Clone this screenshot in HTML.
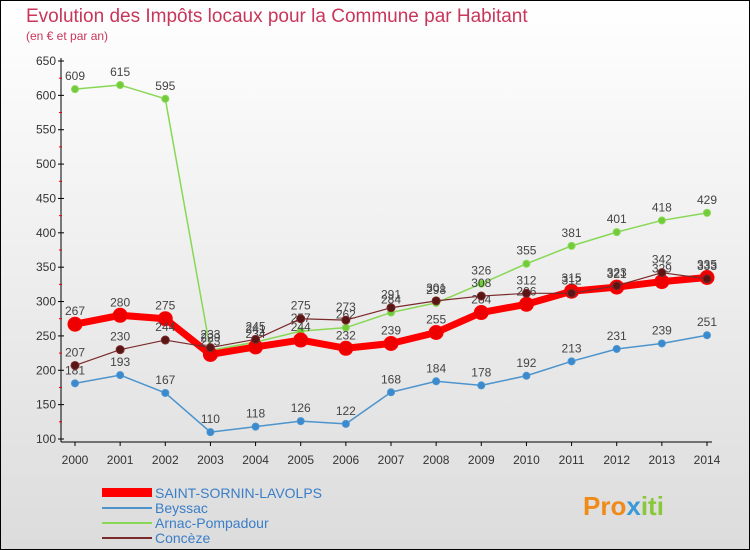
<!DOCTYPE html>
<html><head><meta charset="utf-8"><style>
body{margin:0;background:#fff}
svg{display:block;font-family:"Liberation Sans",sans-serif}
</style></head><body>
<svg id="chart" width="750" height="550" viewBox="0 0 750 550" xmlns="http://www.w3.org/2000/svg">
<defs><linearGradient id="bg" x1="0" y1="0" x2="0" y2="1"><stop offset="0" stop-color="#ffffff"/><stop offset="1" stop-color="#dcdcdc"/></linearGradient></defs>
<rect x="0.5" y="0.5" width="749" height="549" fill="url(#bg)" stroke="#000"/>
<text x="26" y="22" font-size="19" fill="#c8365a">Evolution des Impôts locaux pour la Commune par Habitant</text>
<text x="26" y="40" font-size="12" fill="#c8365a">(en € et par an)</text>
<g id="axes"></g>
<g id="series"></g>
<g id="legend">
<rect x="102" y="488" width="50" height="9" fill="#ff0000"/>
<text x="155" y="498" font-size="14" fill="#3a7ec8">SAINT-SORNIN-LAVOLPS</text>
<line x1="102" y1="508" x2="152" y2="508" stroke="#4d94cc" stroke-width="2"/>
<text x="155" y="513" font-size="14" fill="#3a7ec8">Beyssac</text>
<line x1="102" y1="523" x2="152" y2="523" stroke="#88d855" stroke-width="2"/>
<text x="155" y="528" font-size="14" fill="#3a7ec8">Arnac-Pompadour</text>
<line x1="102" y1="538" x2="152" y2="538" stroke="#7a2a2a" stroke-width="2"/>
<text x="155" y="543" font-size="14" fill="#3a7ec8">Concèze</text>
</g>
<text x="583" y="515" font-size="26" font-weight="bold" fill="#f08a1a">Pro<tspan fill="#3a9ad8">x</tspan><tspan fill="#88c83a">iti</tspan></text>
</svg>
<script>
const years=[2000,2001,2002,2003,2004,2005,2006,2007,2008,2009,2010,2011,2012,2013,2014];
const yTicks=[100,150,200,250,300,350,400,450,500,550,600,650];
const saintSornin=[267,280,275,223,234,244,232,239,255,284,296,315,321,329,335];
const beyssac=[181,193,167,110,118,126,122,168,184,178,192,213,231,239,251];
const arnac=[609,615,595,229,241,257,262,284,298,326,355,381,401,418,429];
const conceze=[207,230,244,233,245,275,273,291,301,308,312,312,323,342,333];
const NS="http://www.w3.org/2000/svg";
const X=i=>75+i*(707-75)/14;
const Y=v=>439-(v-100)*(439-61)/550;
function mk(tag,attrs,parent){const e=document.createElementNS(NS,tag);for(const k in attrs)e.setAttribute(k,attrs[k]);parent.appendChild(e);return e;}
const ax=document.getElementById('axes');
let a=mk('line',{x1:61,y1:58,x2:61,y2:442,stroke:'#000'},ax);


a=mk('line',{x1:61,y1:442,x2:712,y2:442,stroke:'#000'},ax);


yTicks.forEach((t,i)=>{
  mk('line',{x1:58,y1:Y(t),x2:64,y2:Y(t),stroke:'#000'},ax);
  if(i<yTicks.length-1)mk('line',{x1:59,y1:Y(t+25),x2:62,y2:Y(t+25),stroke:'#e00'},ax);
  const tx=mk('text',{x:56,y:Y(t)+4,'font-size':12,'text-anchor':'end',fill:'#333'},ax);
  tx.textContent=t;
  
  
});
years.forEach((yr,i)=>{
  mk('line',{x1:X(i),y1:442,x2:X(i),y2:446,stroke:'#000'},ax);
  const tx=mk('text',{x:X(i),y:464,'font-size':12,'text-anchor':'middle',fill:'#333'},ax);
  tx.textContent=yr;
  
  
});
const sg=document.getElementById('series');
function draw(vals,name,color,w,r,dot){
  const g=mk('g',{},sg);
  
  
  const pl=mk('polyline',{points:vals.map((v,i)=>X(i)+','+Y(v)).join(' '),fill:'none',stroke:color,'stroke-width':w,'stroke-linejoin':'round'},g);
  
  
  vals.forEach((v,i)=>{
    const c=mk('circle',{cx:X(i),cy:Y(v),r:r,fill:dot,stroke:color,'stroke-width':1},g);
    
    
    const t=mk('text',{x:X(i),y:Y(v)-9,'font-size':12,'text-anchor':'middle',fill:'#444'},g);
    t.textContent=v;
    
    
  });
}
draw(beyssac,'beyssac','#4d94cc',1.5,3.5,'#3a8ad0');
draw(arnac,'arnac-pompadour','#88d855',1.5,3.5,'#72cc3a');
draw(saintSornin,'saint-sornin-lavolps','#ff0000',7,7,'#ee0000');
draw(conceze,'conceze','#7a2a2a',1.2,4,'#5a1515');
</script>
</body></html>
